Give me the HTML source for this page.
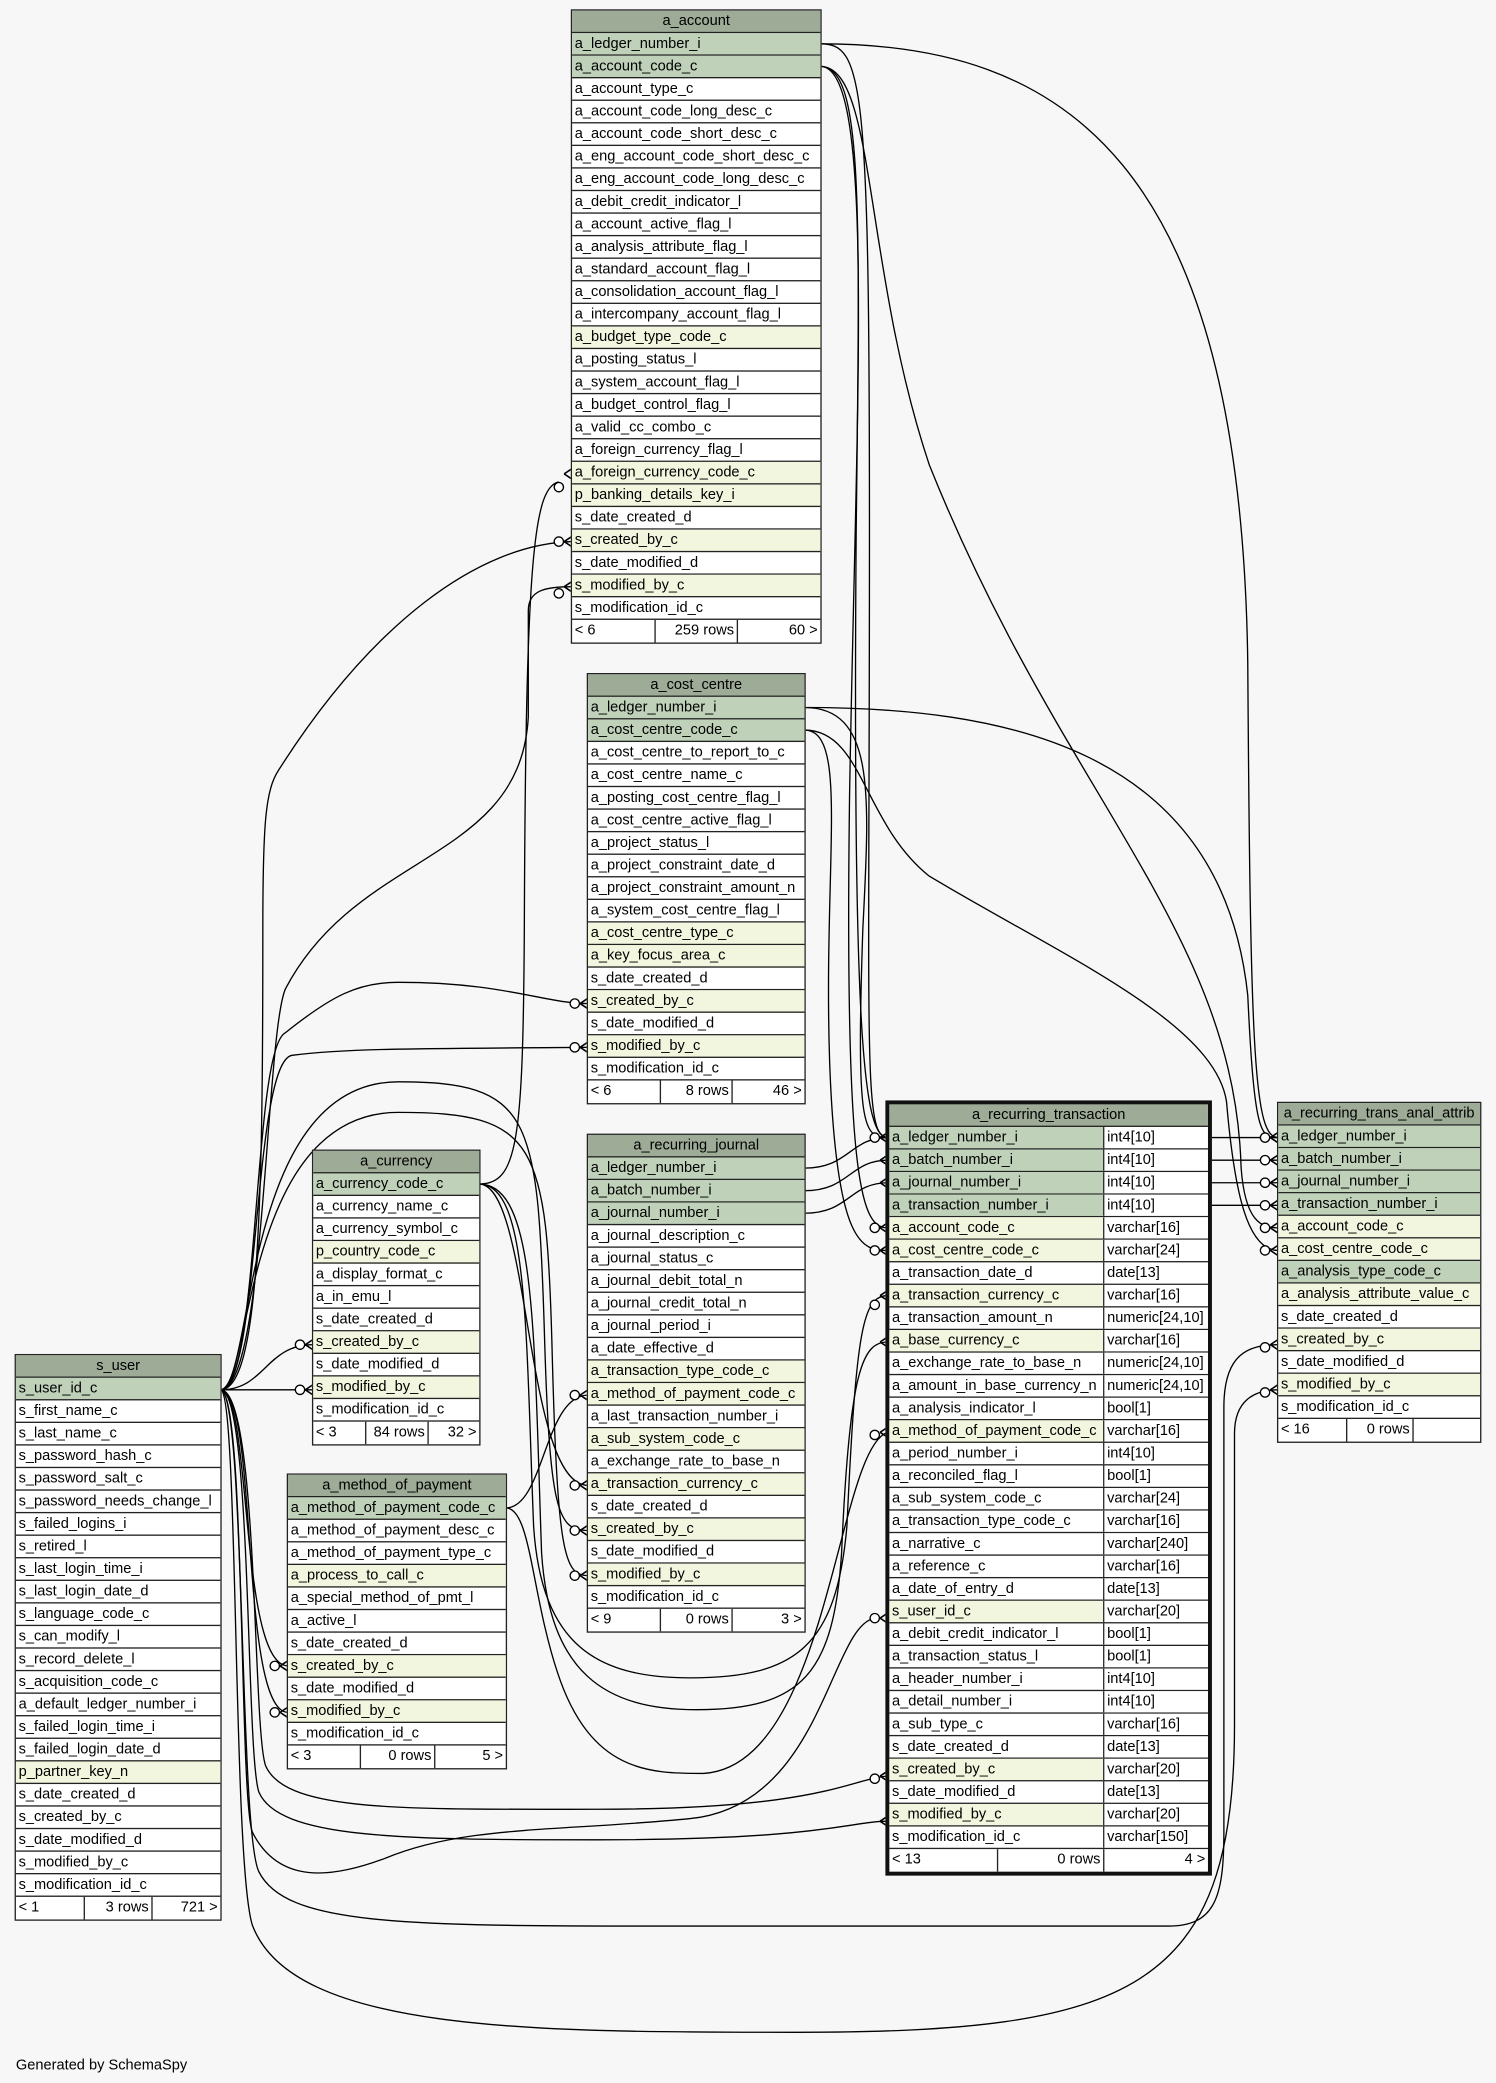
<!DOCTYPE html>
<html><head><meta charset="utf-8">
<style>
html,body{margin:0;padding:0;width:1496px;height:2082px;overflow:hidden;background:#f7f7f7}
#c{position:absolute;left:0;top:0;width:1127px;height:1569px;transform:scale(1.32742);transform-origin:0 0;font-family:"Liberation Sans",sans-serif;font-size:11px;color:#000}
.t{position:absolute;border:1px solid #222;background:#fff;box-sizing:border-box}
.t>div{height:17px;line-height:16px;border-bottom:1px solid #222;padding-left:2px;box-sizing:border-box;white-space:nowrap;overflow:hidden}
.t>.h{background:#9dab97;text-align:center;padding:0}
.t>.p{background:#c0d1ba}
.t>.f{background:#f3f6de}
.t>.ft{display:flex;border-bottom:0;padding:0}
.ft span{display:block;box-sizing:border-box;border-right:1px solid #222;padding:0 2px;height:17px}
.ft span:last-child{border-right:0;text-align:right;flex:1}
.ft span.m{text-align:right}
.t2{border:3px solid #111}
.t2>div.r{display:flex;padding:0}
.r span{display:block;box-sizing:border-box;padding-left:2px;height:16px}
.r span:first-child{width:162px;border-right:1px solid #222}
.r span:last-child{flex:1;background:#fff}
.p span:first-child{background:#c0d1ba}
.f span:first-child{background:#f3f6de}
svg{position:absolute;left:0;top:0}
.gen{position:absolute;left:12px;top:1550px}
</style></head><body><div id="c">
<svg width="1127" height="1569" viewBox="0 0 1127 1569" fill="none" stroke="#000" stroke-width="1">
<!-- a_account -->
<path d="M618,33 C800,33 935,120 940,500 C942,800 945,857 963,857"/>
<path d="M618,33 C650,33 655,60 655,400 C655,800 650,857 669,857"/>
<path d="M618,50 C660,50 645,300 640,600 C636,900 650,925 669,925"/>
<path d="M618,50 C660,50 650,200 700,350 C800,600 930,700 935,880 C938,920 950,925 963,925"/>
<path d="M618,50 C650,50 648,150 645,400 C642,800 652,857 669,857"/>
<!-- cost centre -->
<path d="M606,533 C750,533 920,560 940,750 C945,857 950,857 963,857"/>
<path d="M606,533 C660,533 655,600 650,700 C645,850 650,857 669,857"/>
<path d="M606,550 C640,550 620,650 625,800 C630,940 650,942 669,942"/>
<path d="M606,550 C650,550 650,620 700,660 C800,720 915,770 924,830 C930,900 940,942 963,942"/>
<!-- currency -->
<path d="M361,892 C390,892 394,860 395,700 C396,420 402,367 421,363"/>
<path d="M361,892 C400,892 395,1119 443,1119"/>
<path d="M361,892 C398,892 396,1000 402,1150 C408,1240 450,1264 520,1264 C600,1264 630,1240 638,1150 C645,1000 650,976 669,976"/>
<path d="M361,892 C404,892 402,1000 408,1170 C414,1260 455,1288 525,1288 C605,1288 628,1260 634,1170 C640,1030 650,1011 669,1011"/>
<!-- method of payment -->
<path d="M381,1136 C410,1136 410,1051 443,1051"/>
<path d="M381,1136 C400,1136 400,1200 420,1260 C445,1336 490,1336 530,1336 C625,1330 630,1090 669,1079"/>
<!-- journal -> trans -->
<path d="M606,880 C640,880 640,857 669,857"/>
<path d="M606,897 C640,897 640,874 669,874"/>
<path d="M606,914 C640,914 640,891 669,891"/>
<!-- trans -> anal -->
<path d="M911,857 L963,857 M911,874 L963,874 M911,891 L963,891 M911,908 L963,908"/>
<!-- s_user -->
<path d="M166,1047 C196,1047 198,900 198,700 C198,620 200,595 210,580 C280,470 360,410 431,408"/>
<path d="M166,1047 C200,1047 200,780 215,745 C270,640 392,650 398,540 L398,460 C398,445 410,442 431,442"/>
<path d="M166,1047 C196,1047 190,790 215,778 C250,750 270,740 300,740 C380,740 410,756 443,756"/>
<path d="M166,1047 C196,1047 190,800 220,795 C260,790 300,790 443,789"/>
<path d="M166,1047 C200,1047 200,1013 236,1013"/>
<path d="M166,1047 L236,1047"/>
<path d="M166,1047 C192,1047 180,815 300,815 C400,815 405,840 410,1000 C414,1140 420,1153 443,1153"/>
<path d="M166,1047 C190,1047 182,838 300,838 C405,838 412,860 416,1020 C420,1170 425,1187 443,1187"/>
<path d="M166,1047 C190,1047 180,1255 217,1255"/>
<path d="M166,1047 C195,1047 180,1290 217,1290"/>
<path d="M166,1047 C185,1047 180,1350 190,1380 C210,1420 250,1415 290,1400 C350,1375 420,1380 520,1370 C620,1360 625,1225 659,1219"/>
<path d="M166,1047 C195,1047 190,1300 200,1330 C215,1365 300,1363 450,1363 C620,1363 640,1340 669,1338"/>
<path d="M166,1047 C190,1047 185,1320 195,1350 C210,1385 300,1386 450,1386 C620,1386 640,1372 669,1372"/>
<path d="M166,1047 C185,1047 180,1380 195,1410 C215,1450 300,1451 500,1451 L880,1451 C915,1451 922,1430 922,1380 L922,1060 C922,1020 940,1013 963,1013"/>
<path d="M166,1047 C180,1047 175,1400 190,1450 C220,1531 400,1531 600,1531 C850,1531 930,1500 930,1300 L930,1080 C930,1055 945,1047 963,1047"/>
<!-- markers -->
<g fill="#fff">
<circle cx="421" cy="367" r="3.5"/><circle cx="421" cy="408" r="3.5"/><circle cx="421" cy="447" r="3.5"/>
<circle cx="433" cy="756" r="3.5"/><circle cx="433" cy="789" r="3.5"/>
<circle cx="226" cy="1013" r="3.5"/><circle cx="226" cy="1047" r="3.5"/>
<circle cx="433" cy="1051" r="3.5"/><circle cx="433" cy="1119" r="3.5"/><circle cx="433" cy="1153" r="3.5"/><circle cx="433" cy="1187" r="3.5"/>
<circle cx="207" cy="1255" r="3.5"/><circle cx="207" cy="1290" r="3.5"/>
<circle cx="659" cy="857" r="3.5"/><circle cx="659" cy="925" r="3.5"/><circle cx="659" cy="942" r="3.5"/><circle cx="659" cy="983" r="3.5"/><circle cx="659" cy="1081" r="3.5"/><circle cx="659" cy="1219" r="3.5"/><circle cx="659" cy="1340" r="3.5"/>
<circle cx="953" cy="857" r="3.5"/><circle cx="953" cy="874" r="3.5"/><circle cx="953" cy="891" r="3.5"/><circle cx="953" cy="908" r="3.5"/><circle cx="953" cy="925" r="3.5"/><circle cx="953" cy="942" r="3.5"/><circle cx="953" cy="1015" r="3.5"/><circle cx="953" cy="1049" r="3.5"/>
</g>
<g stroke-width="1.2">
<path d="M425,357 l6,-4 M425,357 l6,4 M425,408 l6,-4 M425,408 l6,4 M425,442 l6,-4 M425,442 l6,4"/>
<path d="M437,756 l6,-4 M437,756 l6,4 M437,789 l6,-4 M437,789 l6,4 M437,1051 l6,-4 M437,1051 l6,4 M437,1119 l6,-4 M437,1119 l6,4 M437,1153 l6,-4 M437,1153 l6,4 M437,1187 l6,-4 M437,1187 l6,4"/>
<path d="M230,1013 l6,-4 M230,1013 l6,4 M230,1047 l6,-4 M230,1047 l6,4 M211,1255 l6,-4 M211,1255 l6,4 M211,1290 l6,-4 M211,1290 l6,4"/>
<path d="M663,857 l6,-4 M663,857 l6,4 M663,874 l6,-4 M663,874 l6,4 M663,891 l6,-4 M663,891 l6,4 M663,925 l6,-4 M663,925 l6,4 M663,942 l6,-4 M663,942 l6,4 M663,976 l6,-4 M663,976 l6,4 M663,1011 l6,-4 M663,1011 l6,4 M663,1079 l6,-4 M663,1079 l6,4 M663,1219 l6,-4 M663,1219 l6,4 M663,1338 l6,-4 M663,1338 l6,4 M663,1372 l6,-4 M663,1372 l6,4"/>
<path d="M957,857 l6,-4 M957,857 l6,4 M957,874 l6,-4 M957,874 l6,4 M957,891 l6,-4 M957,891 l6,4 M957,908 l6,-4 M957,908 l6,4 M957,925 l6,-4 M957,925 l6,4 M957,942 l6,-4 M957,942 l6,4 M957,1013 l6,-4 M957,1013 l6,4 M957,1047 l6,-4 M957,1047 l6,4"/>
</g>
</svg>

<div class="t" style="left:430px;top:7px;width:189px">
<div class="h">a_account</div>
<div class="p">a_ledger_number_i</div><div class="p">a_account_code_c</div>
<div>a_account_type_c</div><div>a_account_code_long_desc_c</div><div>a_account_code_short_desc_c</div><div>a_eng_account_code_short_desc_c</div><div>a_eng_account_code_long_desc_c</div><div>a_debit_credit_indicator_l</div><div>a_account_active_flag_l</div><div>a_analysis_attribute_flag_l</div><div>a_standard_account_flag_l</div><div>a_consolidation_account_flag_l</div><div>a_intercompany_account_flag_l</div>
<div class="f">a_budget_type_code_c</div><div>a_posting_status_l</div><div>a_system_account_flag_l</div><div>a_budget_control_flag_l</div><div>a_valid_cc_combo_c</div><div>a_foreign_currency_flag_l</div>
<div class="f">a_foreign_currency_code_c</div><div class="f">p_banking_details_key_i</div><div>s_date_created_d</div><div class="f">s_created_by_c</div><div>s_date_modified_d</div><div class="f">s_modified_by_c</div><div>s_modification_id_c</div>
<div class="ft"><span style="width:63px">&lt; 6</span><span class="m" style="width:62px">259 rows</span><span>60 &gt;</span></div>
</div>

<div class="t" style="left:442px;top:507px;width:165px">
<div class="h">a_cost_centre</div>
<div class="p">a_ledger_number_i</div><div class="p">a_cost_centre_code_c</div>
<div>a_cost_centre_to_report_to_c</div><div>a_cost_centre_name_c</div><div>a_posting_cost_centre_flag_l</div><div>a_cost_centre_active_flag_l</div><div>a_project_status_l</div><div>a_project_constraint_date_d</div><div>a_project_constraint_amount_n</div><div>a_system_cost_centre_flag_l</div>
<div class="f">a_cost_centre_type_c</div><div class="f">a_key_focus_area_c</div><div>s_date_created_d</div><div class="f">s_created_by_c</div><div>s_date_modified_d</div><div class="f">s_modified_by_c</div><div>s_modification_id_c</div>
<div class="ft"><span style="width:55px">&lt; 6</span><span class="m" style="width:54px">8 rows</span><span>46 &gt;</span></div>
</div>

<div class="t" style="left:235px;top:866px;width:127px">
<div class="h">a_currency</div>
<div class="p">a_currency_code_c</div><div>a_currency_name_c</div><div>a_currency_symbol_c</div><div class="f">p_country_code_c</div><div>a_display_format_c</div><div>a_in_emu_l</div><div>s_date_created_d</div><div class="f">s_created_by_c</div><div>s_date_modified_d</div><div class="f">s_modified_by_c</div><div>s_modification_id_c</div>
<div class="ft"><span style="width:40px">&lt; 3</span><span class="m" style="width:47px">84 rows</span><span>32 &gt;</span></div>
</div>

<div class="t" style="left:442px;top:854px;width:165px">
<div class="h">a_recurring_journal</div>
<div class="p">a_ledger_number_i</div><div class="p">a_batch_number_i</div><div class="p">a_journal_number_i</div>
<div>a_journal_description_c</div><div>a_journal_status_c</div><div>a_journal_debit_total_n</div><div>a_journal_credit_total_n</div><div>a_journal_period_i</div><div>a_date_effective_d</div>
<div class="f">a_transaction_type_code_c</div><div class="f">a_method_of_payment_code_c</div><div>a_last_transaction_number_i</div><div class="f">a_sub_system_code_c</div><div>a_exchange_rate_to_base_n</div><div class="f">a_transaction_currency_c</div>
<div>s_date_created_d</div><div class="f">s_created_by_c</div><div>s_date_modified_d</div><div class="f">s_modified_by_c</div><div>s_modification_id_c</div>
<div class="ft"><span style="width:55px">&lt; 9</span><span class="m" style="width:54px">0 rows</span><span>3 &gt;</span></div>
</div>

<div class="t" style="left:216px;top:1110px;width:166px">
<div class="h">a_method_of_payment</div>
<div class="p">a_method_of_payment_code_c</div><div>a_method_of_payment_desc_c</div><div>a_method_of_payment_type_c</div><div class="f">a_process_to_call_c</div><div>a_special_method_of_pmt_l</div><div>a_active_l</div><div>s_date_created_d</div><div class="f">s_created_by_c</div><div>s_date_modified_d</div><div class="f">s_modified_by_c</div><div>s_modification_id_c</div>
<div class="ft"><span style="width:55px">&lt; 3</span><span class="m" style="width:56px">0 rows</span><span>5 &gt;</span></div>
</div>

<div class="t" style="left:11px;top:1020px;width:156px">
<div class="h">s_user</div>
<div class="p">s_user_id_c</div><div>s_first_name_c</div><div>s_last_name_c</div><div>s_password_hash_c</div><div>s_password_salt_c</div><div>s_password_needs_change_l</div><div>s_failed_logins_i</div><div>s_retired_l</div><div>s_last_login_time_i</div><div>s_last_login_date_d</div><div>s_language_code_c</div><div>s_can_modify_l</div><div>s_record_delete_l</div><div>s_acquisition_code_c</div><div>a_default_ledger_number_i</div><div>s_failed_login_time_i</div><div>s_failed_login_date_d</div>
<div class="f">p_partner_key_n</div><div>s_date_created_d</div><div>s_created_by_c</div><div>s_date_modified_d</div><div>s_modified_by_c</div><div>s_modification_id_c</div>
<div class="ft"><span style="width:52px">&lt; 1</span><span class="m" style="width:51px">3 rows</span><span>721 &gt;</span></div>
</div>

<div class="t t2" style="left:667px;top:829px;width:246px">
<div class="h">a_recurring_transaction</div>
<div class="r p"><span>a_ledger_number_i</span><span>int4[10]</span></div>
<div class="r p"><span>a_batch_number_i</span><span>int4[10]</span></div>
<div class="r p"><span>a_journal_number_i</span><span>int4[10]</span></div>
<div class="r p"><span>a_transaction_number_i</span><span>int4[10]</span></div>
<div class="r f"><span>a_account_code_c</span><span>varchar[16]</span></div>
<div class="r f"><span>a_cost_centre_code_c</span><span>varchar[24]</span></div>
<div class="r"><span>a_transaction_date_d</span><span>date[13]</span></div>
<div class="r f"><span>a_transaction_currency_c</span><span>varchar[16]</span></div>
<div class="r"><span>a_transaction_amount_n</span><span>numeric[24,10]</span></div>
<div class="r f"><span>a_base_currency_c</span><span>varchar[16]</span></div>
<div class="r"><span>a_exchange_rate_to_base_n</span><span>numeric[24,10]</span></div>
<div class="r"><span>a_amount_in_base_currency_n</span><span>numeric[24,10]</span></div>
<div class="r"><span>a_analysis_indicator_l</span><span>bool[1]</span></div>
<div class="r f"><span>a_method_of_payment_code_c</span><span>varchar[16]</span></div>
<div class="r"><span>a_period_number_i</span><span>int4[10]</span></div>
<div class="r"><span>a_reconciled_flag_l</span><span>bool[1]</span></div>
<div class="r"><span>a_sub_system_code_c</span><span>varchar[24]</span></div>
<div class="r"><span>a_transaction_type_code_c</span><span>varchar[16]</span></div>
<div class="r"><span>a_narrative_c</span><span>varchar[240]</span></div>
<div class="r"><span>a_reference_c</span><span>varchar[16]</span></div>
<div class="r"><span>a_date_of_entry_d</span><span>date[13]</span></div>
<div class="r f"><span>s_user_id_c</span><span>varchar[20]</span></div>
<div class="r"><span>a_debit_credit_indicator_l</span><span>bool[1]</span></div>
<div class="r"><span>a_transaction_status_l</span><span>bool[1]</span></div>
<div class="r"><span>a_header_number_i</span><span>int4[10]</span></div>
<div class="r"><span>a_detail_number_i</span><span>int4[10]</span></div>
<div class="r"><span>a_sub_type_c</span><span>varchar[16]</span></div>
<div class="r"><span>s_date_created_d</span><span>date[13]</span></div>
<div class="r f"><span>s_created_by_c</span><span>varchar[20]</span></div>
<div class="r"><span>s_date_modified_d</span><span>date[13]</span></div>
<div class="r f"><span>s_modified_by_c</span><span>varchar[20]</span></div>
<div class="r"><span>s_modification_id_c</span><span>varchar[150]</span></div>
<div class="ft"><span style="width:82px">&lt; 13</span><span class="m" style="width:80px">0 rows</span><span>4 &gt;</span></div>
</div>

<div class="t" style="left:962px;top:830px;width:154px">
<div class="h">a_recurring_trans_anal_attrib</div>
<div class="p">a_ledger_number_i</div><div class="p">a_batch_number_i</div><div class="p">a_journal_number_i</div><div class="p">a_transaction_number_i</div>
<div class="f">a_account_code_c</div><div class="f">a_cost_centre_code_c</div><div class="p">a_analysis_type_code_c</div><div class="f">a_analysis_attribute_value_c</div>
<div>s_date_created_d</div><div class="f">s_created_by_c</div><div>s_date_modified_d</div><div class="f">s_modified_by_c</div><div>s_modification_id_c</div>
<div class="ft"><span style="width:52px">&lt; 16</span><span class="m" style="width:50px">0 rows</span><span></span></div>
</div>

<div class="gen">Generated by SchemaSpy</div>
</div></body></html>
